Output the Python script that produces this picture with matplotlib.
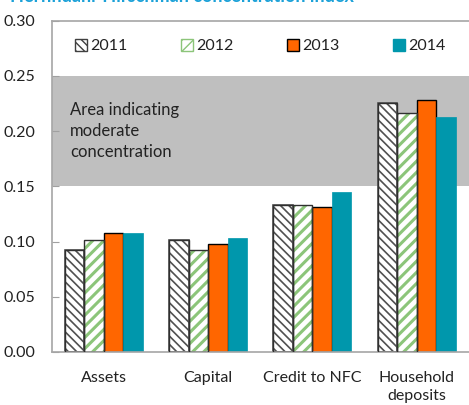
import matplotlib
matplotlib.use("Agg")
import matplotlib.pyplot as plt
from matplotlib.patches import Patch
import numpy as np

plt.rcParams['font.family'] = ['Lato', 'DejaVu Sans']

categories = ["Assets", "Capital", "Credit to NFC", "Household\ndeposits"]
years = ["2011", "2012", "2013", "2014"]
values = {
    "2011": [0.092, 0.101, 0.133, 0.225],
    "2012": [0.101, 0.092, 0.133, 0.216],
    "2013": [0.108, 0.098, 0.131, 0.228],
    "2014": [0.108, 0.103, 0.145, 0.213],
}
band = (0.15, 0.25)
yticks = [0.00, 0.05, 0.10, 0.15, 0.20, 0.25, 0.30]
title = "Herfindahl-Hirschman concentration index"
band_label = "Area indicating\nmoderate\nconcentration"

fig = plt.figure(figsize=(4.69, 4.05), dpi=100)
ax = fig.add_axes([0.110, 0.131, 0.890, 0.818])

ax.axhspan(band[0], band[1], color="#BFBFBF", zorder=0, lw=0)

styles = {
    "2011": dict(facecolor="white", edgecolor="#505050", hatch="\\\\\\\\", linewidth=1.2),
    "2012": dict(facecolor="white", edgecolor="#8CC57A", hatch="///", linewidth=0),
    "2013": dict(facecolor="#FF6600", edgecolor="black", linewidth=1.0),
    "2014": dict(facecolor="#0097AC", edgecolor="#0097AC", linewidth=0.5),
}
hatch_lw = {"2011": 1.2, "2012": 2.2, "2013": 1.0, "2014": 1.0}

x = np.arange(len(categories))
w = 0.187
for i, yr in enumerate(years):
    pos = x + (i - 1.5) * w
    with plt.rc_context({"hatch.linewidth": hatch_lw[yr]}):
        bars = ax.bar(pos, values[yr], width=w, zorder=2, label=yr, **styles[yr])
    for b in bars:
        if hasattr(b, "set_hatch_linewidth"):
            b.set_hatch_linewidth(hatch_lw[yr])
    if yr in ("2011", "2012"):
        ax.bar(pos, values[yr], width=w, facecolor="none", edgecolor="#303030",
               linewidth=1.0, zorder=3)

ax.set_xlim(-0.5, 3.5)
ax.set_ylim(0, 0.30)
ax.set_yticks(yticks)
ax.set_yticklabels([f"{t:.2f}" for t in yticks], fontsize=11.5, color="#222222")
ax.set_xticks(x)
ax.set_xticklabels(categories, fontsize=11.5, color="#222222", linespacing=1.3)
ax.tick_params(axis="y", direction="in", length=5, color="#A0A0A0", pad=12)
ax.tick_params(axis="x", length=0, pad=14)

for s in ["left", "top", "bottom"]:
    ax.spines[s].set_color("#A6A6A6")
    ax.spines[s].set_linewidth(1.2)
ax.spines["right"].set_visible(False)

ax.text(0.045, 0.755, band_label, transform=ax.transAxes, fontsize=12,
        color="#222222", va="top", ha="left", linespacing=1.4)

handles = []
for yr in years:
    st = {k: v for k, v in styles[yr].items() if k != "linewidth"}
    if yr == "2011":
        st["edgecolor"] = "#404040"
    with plt.rc_context({"hatch.linewidth": 1.0 if yr == "2011" else 1.6}):
        p = Patch(label=yr, linewidth=1.0, **st)
    handles.append(p)

leg = ax.legend(handles, years, ncol=4, loc="center", bbox_to_anchor=(0.5, 0.923),
                frameon=False, fontsize=11.5, handlelength=0.75, handleheight=0.75,
                handletextpad=0.25, columnspacing=3.3)
for t in leg.get_texts():
    t.set_color("#222222")

fig.text(0.021, 1 - 2.5 / 405, title, fontsize=13, fontweight="bold",
         color="#1BA1D8", va="baseline", ha="left")

fig.savefig("out.png", dpi=100)
